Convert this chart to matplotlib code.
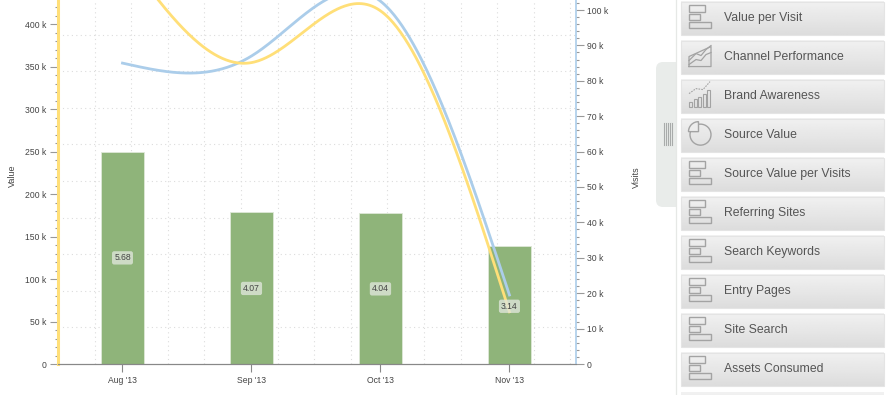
import numpy as np
import matplotlib
matplotlib.use('Agg')
import matplotlib.pyplot as plt
from matplotlib.patches import Rectangle, FancyBboxPatch, Wedge, Circle
from matplotlib.ticker import MultipleLocator, FuncFormatter

plt.rcParams['font.family'] = ['Liberation Sans', 'DejaVu Sans']

months = ["Aug '13", "Sep '13", "Oct '13", "Nov '13"]
value_bars = [250000, 179500, 177500, 139000]
value_per_visit = ['5.68', '4.07', '4.04', '3.14']
label_heights = [125000, 89000, 88500, 68000]
value_line = [485000, 355000, 416000, 61500]
visits_line = [85000, 87000, 102500, 19500]
buttons = ['Value per Visit', 'Channel Performance', 'Brand Awareness', 'Source Value',
           'Source Value per Visits', 'Referring Sites', 'Search Keywords', 'Entry Pages',
           'Site Search', 'Assets Consumed']
icons = ['bar', 'area', 'combo', 'pie', 'bar', 'bar', 'bar', 'bar', 'bar', 'bar']

YELLOW = '#ffdf78'
BLUE = '#abcdea'
GREEN = '#8fb47a'
W, H = 890, 395


def natural_spline(y, n=300):
    # smooth the lines the way the chart does, natural cubic through the points
    y = np.asarray(y, dtype=float)
    k = len(y)
    A = np.zeros((k, k))
    b = np.zeros(k)
    A[0, 0] = A[-1, -1] = 1
    for i in range(1, k - 1):
        A[i, i - 1:i + 2] = [1, 4, 1]
        b[i] = 6 * (y[i - 1] - 2 * y[i] + y[i + 1])
    m = np.linalg.solve(A, b)
    xs = np.linspace(0, k - 1, n)
    i = np.minimum(xs.astype(int), k - 2)
    t = xs - i
    ys = (1 - t) * y[i] + t * y[i + 1] + ((1 - t) ** 3 - (1 - t)) * m[i] / 6 + (t ** 3 - t) * m[i + 1] / 6
    return xs, ys


fig = plt.figure(figsize=(W / 100, H / 100), dpi=100)
ax = fig.add_axes([58 / W, (H - 364) / H, 518 / W, 364 / H])
ax2 = ax.twinx()
ax.set_zorder(1)
ax2.set_zorder(2)
ax2.patch.set_visible(False)

x = np.arange(len(months))
ax.set_xlim(-0.5, 3.516)
ax.set_ylim(0, 364 / 42.45 * 50000)
ax2.set_ylim(0, 364 / 35.4 * 10000)
to_right = ax2.get_ylim()[1] / ax.get_ylim()[1]

# dotted grid is on a fixed pixel step, not on the ticks
step = 36.6
for i in range(1, 15):
    ax.axvline(-0.5 + i * step / 129, color='#dcdcdc', lw=0.8, ls=(0, (1, 3)), zorder=0)
for i in range(1, 10):
    ax.axhline(ax.get_ylim()[1] * i * step / 364, color='#dcdcdc', lw=0.8, ls=(0, (1, 3)), zorder=0)

ax.bar(x, value_bars, width=0.333, color=GREEN, edgecolor='#dfe8d8', lw=0.6, zorder=2)

xs, ys = natural_spline(visits_line)
ax2.plot(xs, ys, color=BLUE, lw=2, zorder=4)
xs, ys = natural_spline(value_line)
ax2.plot(xs, ys * to_right, color=YELLOW, lw=2, zorder=5)

for xi, h, txt in zip(x, label_heights, value_per_visit):
    ax2.text(xi, h * to_right, txt, ha='center', va='center', fontsize=6.2, color='#444444', zorder=6,
             bbox=dict(boxstyle='round,pad=0.25', fc='#dfe6da', ec='none', alpha=0.8))

k_fmt = FuncFormatter(lambda v, p: '0' if v == 0 else '%d k' % (v / 1000))
ax.set_xticks(x)
ax.set_xticklabels(months)
ax.tick_params(axis='x', length=5.8, width=0.8, color='#888888', labelsize=6.2, labelcolor='#444444', pad=2.5)
ax.yaxis.set_major_locator(MultipleLocator(50000))
ax.yaxis.set_minor_locator(MultipleLocator(10000))
ax.yaxis.set_major_formatter(k_fmt)
ax.tick_params(axis='y', which='major', length=5.8, width=0.8, color='#999999', labelsize=6.2, labelcolor='#444444', pad=2.5)
ax.tick_params(axis='y', which='minor', length=2.2, width=0.8, color='#999999')
ax2.yaxis.set_major_locator(MultipleLocator(10000))
ax2.yaxis.set_minor_locator(MultipleLocator(2000))
ax2.yaxis.set_major_formatter(k_fmt)
ax2.tick_params(axis='y', which='major', length=5.8, width=0.8, color='#999999', labelsize=6.2, labelcolor='#444444', pad=2)
ax2.tick_params(axis='y', which='minor', length=2.2, width=0.8, color='#999999')

for a in (ax, ax2):
    a.spines['top'].set_visible(False)
    a.spines['bottom'].set_color('#888888')
    a.spines['left'].set_visible(False)
    a.spines['right'].set_visible(False)
ax2.spines['left'].set_visible(True)
ax2.spines['left'].set_color(YELLOW)
ax2.spines['left'].set_linewidth(2.2)
ax2.spines['right'].set_visible(True)
ax2.spines['right'].set_color(BLUE)
ax2.spines['right'].set_linewidth(1.2)

# sidebar lives in its own pixel-space axes
ui = fig.add_axes([0, 0, 1, 1], zorder=5)
ui.set_xlim(0, W)
ui.set_ylim(H, 0)
ui.axis('off')
ui.patch.set_visible(False)

ui.text(12, 176, 'Value', rotation=90, ha='center', va='center', fontsize=6.5, color='#444444')
ui.text(636, 177, 'Visits', rotation=90, ha='center', va='center', fontsize=6.5, color='#444444')

ui.add_patch(FancyBboxPatch((656, 62), 30, 145, boxstyle='round,pad=0,rounding_size=7', fc='#e9ecea', ec='none'))
ui.add_patch(Rectangle((675.5, 0), 215, H, fc='white', ec='none'))
ui.plot([675.5, 675.5], [0, H], color='#e6e8e6', lw=0.9)
for gx in [663.5, 665.5, 667.5, 669.5, 671.5]:
    ui.plot([gx, gx], [123, 145], color='#a8abaa', lw=0.8)

grad = np.linspace(0.945, 0.865, 32).reshape(-1, 1)
ICON = '#a3a3a3'


def draw_icon(kind, top):
    if kind == 'bar':
        for y0, y1, x1 in [(3.5, 10, 705), (12, 18.5, 699.5), (20, 26, 711)]:
            ui.add_patch(Rectangle((689, top + y0), x1 - 689, y1 - y0, fc='none', ec=ICON, lw=1, zorder=4))
    elif kind == 'area':
        ui.plot([689, 689, 711, 711, 689], [top + 26, top + 16, top + 6, top + 26, top + 26], color=ICON, lw=0.9, zorder=4)
        ui.plot([689, 696, 701, 706, 711], [top + 20, top + 13, top + 15, top + 9, top + 5], color=ICON, lw=0.9, zorder=4)
        ui.plot([689, 696, 701, 706, 711], [top + 24, top + 19, top + 20, top + 14, top + 12], color=ICON, lw=0.9, zorder=4)
    elif kind == 'combo':
        for j, bh in enumerate([5, 8, 10, 13, 17]):
            ui.add_patch(Rectangle((689 + j * 4.5, top + 27 - bh), 3.2, bh, fc='none', ec=ICON, lw=0.8, zorder=4))
        ui.plot([689, 696, 703, 710], [top + 14, top + 9, top + 10, top + 2], color=ICON, lw=0.8, ls=(0, (1.5, 1)), zorder=4)
    elif kind == 'pie':
        ui.add_patch(Circle((700.5, top + 16), 10.5, fc='none', ec=ICON, lw=1, zorder=4))
        ui.add_patch(Wedge((698.5, top + 13), 10, 180, 270, fc='#ececec', ec=ICON, lw=1, zorder=4))


for i, (name, kind) in enumerate(zip(buttons, icons)):
    top = 1.5 + i * 39.05
    ui.imshow(grad, extent=(681, 884, top + 33.5, top), cmap='gray', vmin=0, vmax=1, aspect='auto', zorder=2)
    ui.add_patch(Rectangle((681, top), 203, 33.5, fc='none', ec='#e4e4e4', lw=0.8, zorder=3))
    ui.text(724.5, top + 16.5, name, ha='left', va='center', fontsize=8.8, color='#555555', zorder=4)
    draw_icon(kind, top)
ui.imshow(grad, extent=(681, 884, H + 30, 392), cmap='gray', vmin=0, vmax=1, aspect='auto', zorder=2)
ui.set_xlim(0, W)
ui.set_ylim(H, 0)

fig.savefig('out.png', dpi=100)
